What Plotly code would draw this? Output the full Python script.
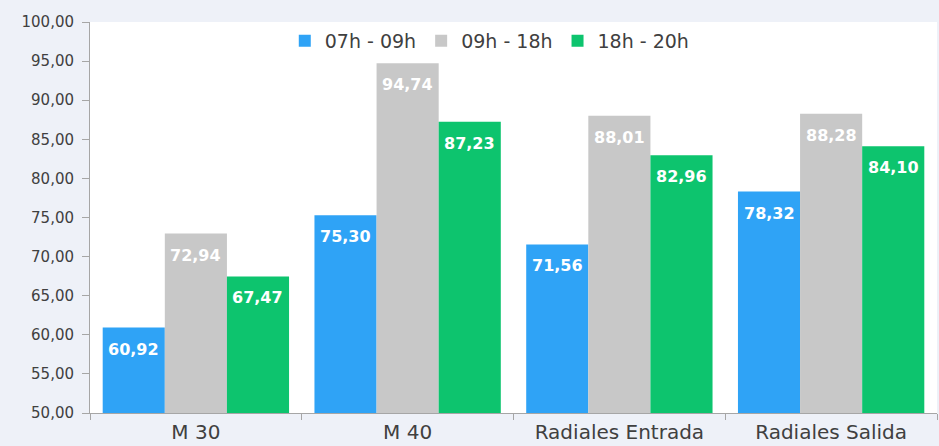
import plotly.graph_objects as go

categories = ["M 30", "M 40", "Radiales Entrada", "Radiales Salida"]
series_names = ["07h - 09h", "09h - 18h", "18h - 20h"]
v_0709 = [60.92, 75.30, 71.56, 78.32]
v_0918 = [72.94, 94.74, 88.01, 88.28]
v_1820 = [67.47, 87.23, 82.96, 84.10]
colors = ["#2FA3F6", "#C8C8C8", "#0DC46E"]

FONT = "'DejaVu Sans', sans-serif"
W, H = 939, 446
ML, MR, MT, MB = 90, 2, 22, 33
BARGAP = 0.12

fig = go.Figure()
series = [v_0709, v_0918, v_1820]
for name, vals, col in zip(series_names, series, colors):
    fig.add_trace(go.Bar(
        x=categories, y=vals, name=name, marker_color=col,
        marker_line_width=0, hoverinfo="x+y",
    ))

# data labels placed just inside the top of each bar
cat_px = (W - ML - MR) / len(categories)
bar_px = cat_px * (1 - BARGAP) / len(series)
for si, vals in enumerate(series):
    for cat, v in zip(categories, vals):
        fig.add_annotation(
            x=cat, y=v, xref="x", yref="y",
            text=f"{v:.2f}".replace(".", ","),
            showarrow=False, yanchor="top", xanchor="center",
            xshift=(si - 1) * bar_px, yshift=-10,
            font=dict(family=FONT, size=16, color="white", weight="bold"),
        )

fig.update_layout(
    width=W, height=H,
    separators=",.",
    barmode="group", bargap=BARGAP, bargroupgap=0,
    paper_bgcolor="#EEF1F8", plot_bgcolor="white",
    margin=dict(l=ML, r=MR, t=MT, b=MB, autoexpand=False),
    font=dict(family=FONT, color="#404040"),
    legend=dict(orientation="h", x=0.472, xanchor="center", y=1.0, yanchor="top",
                font=dict(size=19, color="#404040"), bgcolor="rgba(0,0,0,0)",
                itemwidth=30, traceorder="normal"),
    showlegend=True,
)
fig.update_yaxes(range=[50, 100], dtick=5, tickformat=".2f",
                 showgrid=False, zeroline=False, automargin=False,
                 showline=True, linecolor="#A6A6A6", linewidth=1,
                 ticks="outside", ticklen=7, tickcolor="#A6A6A6",
                 ticklabelstandoff=5,
                 tickfont=dict(size=15, color="#404040"))
fig.update_xaxes(showgrid=False, showline=True, linecolor="#A6A6A6", linewidth=1,
                 automargin=False,
                 ticks="outside", tickson="boundaries", ticklen=6, tickcolor="#A6A6A6",
                 ticklabelstandoff=1,
                 tickfont=dict(size=20, color="#404040"))

fig.write_html(
    "out.html",
    config={"displayModeBar": False},
    post_script="document.body.style.margin='0';document.body.style.background='#EEF1F8';",
)
